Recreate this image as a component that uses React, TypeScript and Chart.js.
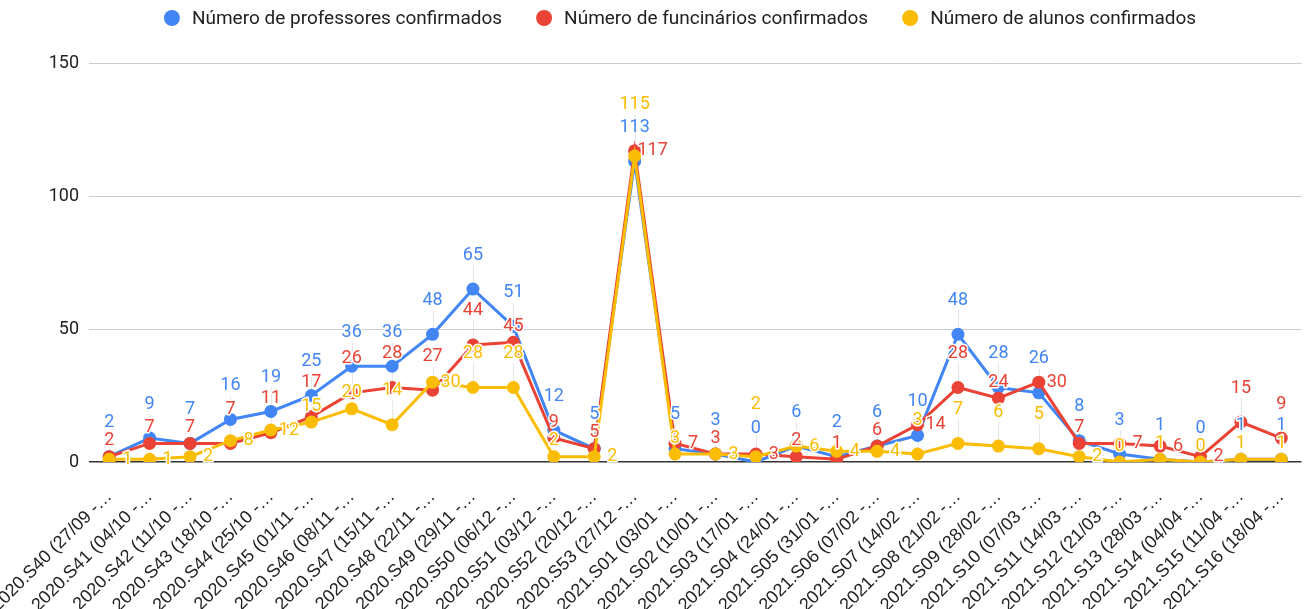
import React, { useEffect, useRef } from "react";
import { Chart, registerables } from "chart.js";

Chart.register(...registerables);

const categories = [
  "2020.S40 (27/09 -…", "2020.S41 (04/10 -…", "2020.S42 (11/10 -…", "2020.S43 (18/10 -…",
  "2020.S44 (25/10 -…", "2020.S45 (01/11 -…", "2020.S46 (08/11 -…", "2020.S47 (15/11 -…",
  "2020.S48 (22/11 -…", "2020.S49 (29/11 -…", "2020.S50 (06/12 -…", "2020.S51 (03/12 -…",
  "2020.S52 (20/12 -…", "2020.S53 (27/12 -…", "2021.S01 (03/01 -…", "2021.S02 (10/01 -…",
  "2021.S03 (17/01 -…", "2021.S04 (24/01 -…", "2021.S05 (31/01 -…", "2021.S06 (07/02 -…",
  "2021.S07 (14/02 -…", "2021.S08 (21/02 -…", "2021.S09 (28/02 -…", "2021.S10 (07/03 -…",
  "2021.S11 (14/03 -…", "2021.S12 (21/03 -…", "2021.S13 (28/03 -…", "2021.S14 (04/04 -…",
  "2021.S15 (11/04 -…", "2021.S16 (18/04 -…",
];

const professores = [2, 9, 7, 16, 19, 25, 36, 36, 48, 65, 51, 12, 5, 113, 5, 3, 0, 6, 2, 6, 10, 48, 28, 26, 8, 3, 1, 0, 1, 1];
const funcionarios = [2, 7, 7, 7, 11, 17, 26, 28, 27, 44, 45, 9, 5, 117, 7, 3, 3, 2, 1, 6, 14, 28, 24, 30, 7, 7, 6, 2, 15, 9];
const alunos = [1, 1, 2, 8, 12, 15, 20, 14, 30, 28, 28, 2, 2, 115, 3, 3, 2, 6, 4, 4, 3, 7, 6, 5, 2, 0, 1, 0, 1, 1];

const seriesNames = [
  "Número de professores confirmados",
  "Número de funcinários confirmados",
  "Número de alunos confirmados",
];
const seriesColors = ["#4285F4", "#EA4335", "#FBBC04"];
const yTicks = [0, 50, 100, 150];

type Box = { x1: number; y1: number; x2: number; y2: number };
type Placed = { text: string; color: string; x: number; y: number; px: number; py: number; stem: boolean };

const LABEL_FONT = "18px Roboto";
const LEGEND_FONT = "19px Roboto";

function overlaps(a: Box, b: Box) {
  return a.x1 < b.x2 && a.x2 > b.x1 && a.y1 < b.y2 && a.y2 > b.y1;
}

const labelPlugin = {
  id: "pointLabels",
  beforeDatasetsDraw(chart: any) {
    const ctx = chart.ctx;
    ctx.save();
    ctx.font = LABEL_FONT;
    const placedBoxes: Box[] = [];
    const placed: Placed[] = [];
    const candidates = [
      { dx: 0, dy: -34, stem: true },
      { dx: 0, dy: -16, stem: false },
      { dx: 18, dy: 0, stem: false },
      { dx: 0, dy: -52, stem: true },
      { dx: 0, dy: 22, stem: false },
      { dx: -18, dy: 0, stem: false },
      { dx: 0, dy: -70, stem: true },
    ];
    const n = chart.data.labels.length;
    for (let i = 0; i < n; i++) {
      for (let d = 0; d < chart.data.datasets.length; d++) {
        const meta = chart.getDatasetMeta(d);
        const el = meta.data[i];
        if (!el) continue;
        const text = String(chart.data.datasets[d].data[i]);
        const w = ctx.measureText(text).width + 2;
        const h = 16;
        let chosen = candidates[0];
        let box: Box | null = null;
        for (const c of candidates) {
          const cx = el.x + c.dx;
          const cy = el.y + c.dy;
          const b = { x1: cx - w / 2, y1: cy - h / 2, x2: cx + w / 2, y2: cy + h / 2 };
          if (!placedBoxes.some((p) => overlaps(p, b))) {
            chosen = c;
            box = b;
            break;
          }
        }
        if (!box) {
          const cx = el.x + chosen.dx;
          const cy = el.y + chosen.dy;
          box = { x1: cx - w / 2, y1: cy - h / 2, x2: cx + w / 2, y2: cy + h / 2 };
        }
        placedBoxes.push(box);
        placed.push({
          text,
          color: seriesColors[d],
          x: el.x + chosen.dx,
          y: el.y + chosen.dy,
          px: el.x,
          py: el.y,
          stem: chosen.stem,
        });
      }
    }
    ctx.strokeStyle = "#e6e6e6";
    ctx.lineWidth = 1;
    for (const p of placed) {
      if (!p.stem) continue;
      ctx.beginPath();
      ctx.moveTo(Math.round(p.px) + 0.5, p.py);
      ctx.lineTo(Math.round(p.px) + 0.5, p.y + 10);
      ctx.stroke();
    }
    ctx.restore();
    chart.$placedLabels = placed;
  },
  afterDatasetsDraw(chart: any) {
    const placed: Placed[] = chart.$placedLabels || [];
    const ctx = chart.ctx;
    ctx.save();
    ctx.font = LABEL_FONT;
    ctx.textAlign = "center";
    ctx.textBaseline = "middle";
    ctx.lineJoin = "round";
    for (const p of placed) {
      ctx.strokeStyle = "#ffffff";
      ctx.lineWidth = 3;
      ctx.strokeText(p.text, p.x, p.y);
      ctx.fillStyle = p.color;
      ctx.fillText(p.text, p.x, p.y);
    }
    ctx.restore();
  },
};

const legendPlugin = {
  id: "customLegend",
  afterDraw(chart: any) {
    const ctx = chart.ctx;
    ctx.save();
    ctx.font = LEGEND_FONT;
    ctx.textBaseline = "middle";
    ctx.textAlign = "left";
    const r = 8;
    const textGap = 20;
    const itemGap = 42;
    const widths = seriesNames.map((s) => ctx.measureText(s).width);
    let total = r;
    widths.forEach((w, k) => {
      total += textGap + w + (k < widths.length - 1 ? itemGap : 0);
    });
    const centerX = 680;
    const cy = 18;
    let x = centerX - total / 2 + r;
    seriesNames.forEach((name, k) => {
      ctx.fillStyle = seriesColors[k];
      ctx.beginPath();
      ctx.arc(x, cy, r, 0, Math.PI * 2);
      ctx.fill();
      ctx.fillStyle = "#222222";
      ctx.fillText(name, x + textGap, cy + 1);
      x += textGap + widths[k] + itemGap;
    });
    ctx.restore();
  },
};

export default function App() {
  const canvasRef = useRef<HTMLCanvasElement | null>(null);

  useEffect(() => {
    if (!canvasRef.current) return;
    const seriesData = [professores, funcionarios, alunos];
    const chart = new Chart(canvasRef.current, {
      type: "line",
      data: {
        labels: categories,
        datasets: seriesData.map((values, k) => ({
          label: seriesNames[k],
          data: values,
          borderColor: seriesColors[k],
          backgroundColor: seriesColors[k],
          pointBackgroundColor: seriesColors[k],
          pointBorderColor: seriesColors[k],
          borderWidth: 3,
          pointRadius: 6.5,
          pointBorderWidth: 0,
          tension: 0,
          order: 3 - k,
        })),
      },
      options: {
        responsive: false,
        animation: false,
        layout: { padding: 0 },
        plugins: {
          legend: { display: false },
          tooltip: { enabled: false },
        },
        scales: {
          x: {
            offset: true,
            grid: { display: false },
            border: { display: false },
            ticks: {
              autoSkip: false,
              maxRotation: 45,
              minRotation: 45,
              color: "#222222",
              font: { family: "Liberation Sans, Arial", size: 18 },
              padding: 16,
            },
            afterFit: (scale: any) => {
              scale.height = 147;
              scale.paddingLeft = 0;
              scale.paddingRight = 0;
            },
          },
          y: {
            min: 0,
            max: 150,
            afterBuildTicks: (scale: any) => {
              scale.ticks = yTicks.map((v) => ({ value: v }));
            },
            grid: {
              color: (c: any) => (c.tick && c.tick.value === 0 ? "#333333" : "#cccccc"),
              lineWidth: (c: any) => (c.tick && c.tick.value === 0 ? 1.5 : 1),
              drawTicks: false,
            },
            border: { display: false },
            ticks: {
              color: "#222222",
              font: { family: "Roboto", size: 18 },
              padding: 10,
            },
            afterFit: (scale: any) => {
              scale.width = 89;
              scale.paddingTop = 63;
              scale.paddingBottom = 0;
            },
          },
        },
      },
      plugins: [labelPlugin, legendPlugin],
    });
    return () => chart.destroy();
  }, []);

  return (
    <div style={{ position: "fixed", left: 0, top: 0, width: 1308, height: 609, background: "#ffffff" }}>
      <canvas ref={canvasRef} width={1308} height={609} style={{ width: 1308, height: 609, display: "block" }} />
    </div>
  );
}
